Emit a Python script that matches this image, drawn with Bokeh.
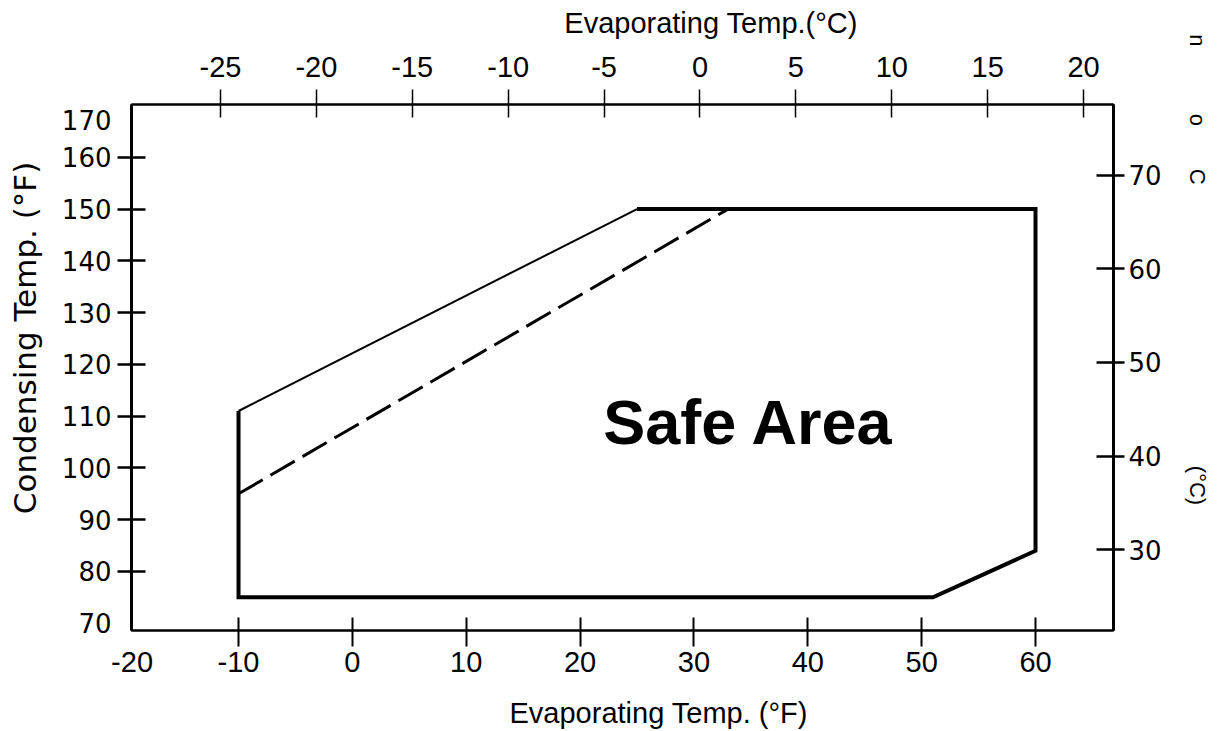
from bokeh.plotting import figure
from bokeh.models import LinearAxis, Range1d, FixedTicker, Label
from bokeh.embed import file_html
from bokeh.resources import INLINE

# ---------------- data ----------------
evap_f_ticks = [-10, 0, 10, 20, 30, 40, 50, 60]
evap_f_labels = [-20, -10, 0, 10, 20, 30, 40, 50, 60]
cond_f_ticks = [80, 90, 100, 110, 120, 130, 140, 150, 160]
cond_f_labels = [70, 80, 90, 100, 110, 120, 130, 140, 150, 160, 170]
evap_c_ticks = [-25, -20, -15, -10, -5, 0, 5, 10, 15, 20]
cond_c_ticks = [30, 40, 50, 60, 70]

# safe-area boundary (evaporating degF, condensing degF)
thin_edge_evap = [-10, 25]
thin_edge_cond = [111, 150]
thick_edge_evap = [25, 60, 60, 51, -10, -10]
thick_edge_cond = [150, 150, 84, 75, 75, 111]
dash_evap = [-10, 33]
dash_cond = [95, 150]

SANS = "Liberation Sans"
WIDE = "DejaVu Sans"
NB = "\u00a0"

X0, X1 = -19.4, 66.85
Y0, Y1 = 68.6, 170.2

p = figure(width=1218, height=731, output_backend="svg", toolbar_location=None,
           x_range=Range1d(X0, X1), y_range=Range1d(Y0, Y1),
           x_axis_location=None, y_axis_location=None)
p.extra_x_ranges = {"c": Range1d(-29.64, 21.56)}
p.extra_y_ranges = {"c": Range1d(21.36, 77.57)}
p.min_border_left = 131
p.min_border_right = 105
p.min_border_top = 104
p.min_border_bottom = 100
p.xgrid.grid_line_color = None
p.ygrid.grid_line_color = None
p.outline_line_color = "black"
p.outline_line_width = 2
p.background_fill_color = "white"
p.border_fill_color = "white"


def style(ax, font, size, tin, tout, standoff, tw, lw):
    ax.major_label_text_font = font
    ax.major_label_text_font_size = size
    ax.major_label_text_color = "black"
    ax.major_tick_in = tin
    ax.major_tick_out = tout
    ax.major_tick_line_width = tw
    ax.major_tick_line_color = "black" if tw else None
    ax.minor_tick_line_color = None
    ax.major_label_standoff = standoff
    ax.axis_line_width = lw
    ax.axis_line_color = "black" if lw else None


def title(ax, text, font, size, standoff):
    ax.axis_label = text
    ax.axis_label_text_font = font
    ax.axis_label_text_font_size = size
    ax.axis_label_text_font_style = "normal"
    ax.axis_label_text_color = "black"
    ax.axis_label_standoff = standoff


# ---- bottom: ticks, then labels + title ----
b_ticks = LinearAxis(ticker=FixedTicker(ticks=evap_f_ticks),
                     major_label_overrides={t: "" for t in evap_f_ticks})
style(b_ticks, SANS, "1px", 13, 16, 0, 2, 2)
p.add_layout(b_ticks, "below")

b_pos = [max(v, X0 + 0.05) for v in evap_f_labels]
b_lab = LinearAxis(ticker=FixedTicker(ticks=b_pos),
                   major_label_overrides={pp: str(v) for pp, v in zip(b_pos, evap_f_labels)})
style(b_lab, SANS, "29px", 0, 0, 5, 0, 0)
title(b_lab, NB * 9 + "Evaporating Temp. (°F)", SANS, "29px", 22)
p.add_layout(b_lab, "below")

# ---- top (degC) ----
top = LinearAxis(x_range_name="c", ticker=FixedTicker(ticks=evap_c_ticks),
                 major_label_overrides={t: str(t) for t in evap_c_ticks})
style(top, SANS, "29px", 13, 15, 13, 1.5, 2)
title(top, NB * 22 + "Evaporating Temp.(°C)", SANS, "29px", 15)
p.add_layout(top, "above")

# ---- left: ticks, then labels + title ----
l_ticks = LinearAxis(ticker=FixedTicker(ticks=cond_f_ticks),
                     major_label_overrides={t: "" for t in cond_f_ticks})
style(l_ticks, WIDE, "1px", 14, 14, 0, 2.5, 3)
p.add_layout(l_ticks, "left")

# the top label sits a little below the frame corner
l_pos = [v if v < Y1 - 1 else v - 2.7 for v in cond_f_labels]
l_lab = LinearAxis(ticker=FixedTicker(ticks=l_pos),
                   major_label_overrides={pp: str(v) for pp, v in zip(l_pos, cond_f_labels)})
style(l_lab, WIDE, "26px", 0, 0, 6, 0, 0)
title(l_lab, NB * 6 + "Condensing Temp. (°F)", WIDE, "31px", 16)
p.add_layout(l_lab, "left")

# ---- right (degC) ----
right = LinearAxis(y_range_name="c", ticker=FixedTicker(ticks=cond_c_ticks))
style(right, WIDE, "26px", 17, 11, 4, 2.5, 3)
frag = "n" + NB * 11 + "o" + NB * 7 + "C" + NB * 46 + "(°C)" + NB * 32
title(right, frag, SANS, "22px", 20)
p.add_layout(right, "right")

# ---- boundary lines ----
p.line(thin_edge_evap, thin_edge_cond, line_color="black", line_width=2)
p.line(thick_edge_evap, thick_edge_cond, line_color="black", line_width=4,
       line_join="miter")
p.line(dash_evap, dash_cond, line_color="black", line_width=3, line_dash="28 9")

p.add_layout(Label(x=34.8, y=108.9, text="Safe Area", text_font=SANS,
                   text_font_size="63px", text_font_style="bold", text_color="black",
                   text_align="center", text_baseline="middle"))

open("out.html", "w").write(file_html(p, INLINE))
